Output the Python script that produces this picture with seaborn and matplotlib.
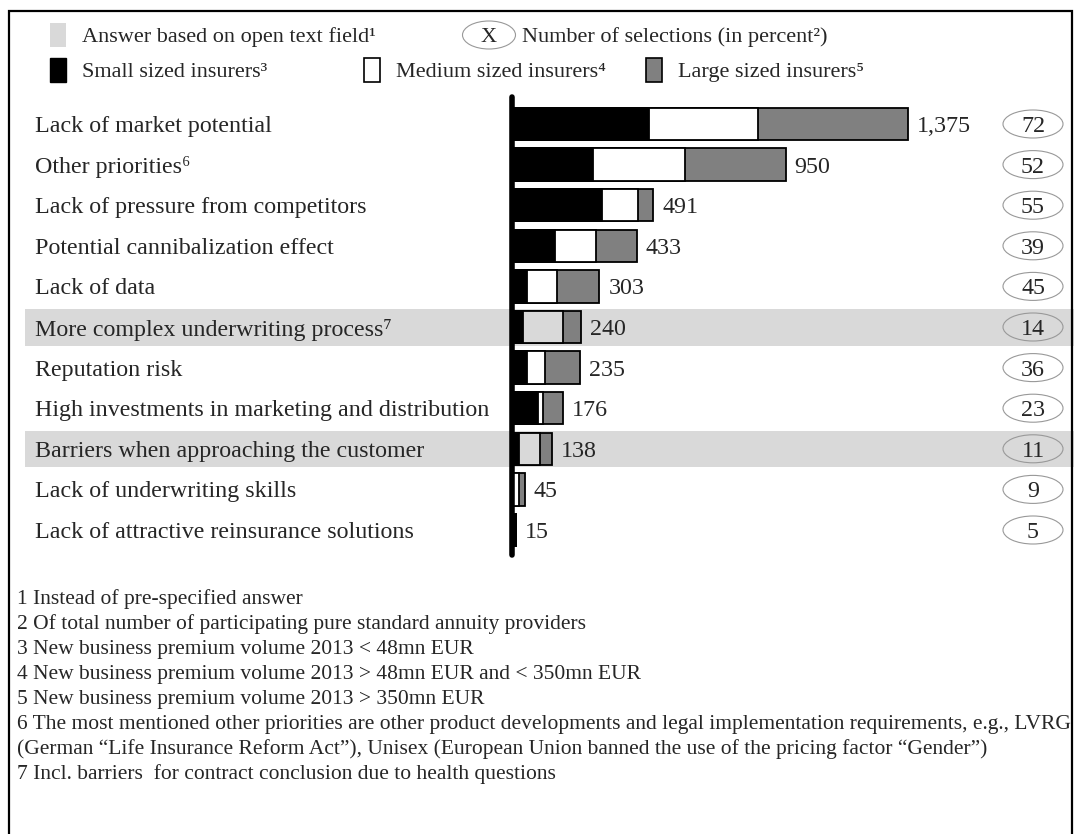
import numpy as np
import pandas as pd
import matplotlib
matplotlib.use('Agg')
import matplotlib.pyplot as plt
from matplotlib.patches import Rectangle, Ellipse
import seaborn as sns

categories = ['Lack of market potential', 'Other priorities\u2076', 'Lack of pressure from competitors',
              'Potential cannibalization effect', 'Lack of data', 'More complex underwriting process\u2077',
              'Reputation risk', 'High investments in marketing and distribution',
              'Barriers when approaching the customer', 'Lack of underwriting skills',
              'Lack of attractive reinsurance solutions']
small = [475, 282, 311, 150, 52, 38, 52, 91, 25, 5, 15]
medium = [378, 317, 128, 143, 105, 139, 61, 16, 71, 18, 0]
large = [522, 351, 52, 140, 146, 63, 122, 69, 42, 22, 0]
totals = [1375, 950, 491, 433, 303, 240, 235, 176, 138, 45, 15]
selections = [72, 52, 55, 39, 45, 14, 36, 23, 11, 9, 5]
open_text = [False, False, False, False, False, True, False, False, True, False, False]

footnotes = ['1 Instead of pre-specified answer',
             '2 Of total number of participating pure standard annuity providers',
             '3 New business premium volume 2013 < 48mn EUR',
             '4 New business premium volume 2013 > 48mn EUR and < 350mn EUR',
             '5 New business premium volume 2013 > 350mn EUR',
             '6 The most mentioned other priorities are other product developments and legal implementation requirements, e.g., LVRG',
             '(German \u201cLife Insurance Reform Act\u201d), Unisex (European Union banned the use of the pricing factor \u201cGender\u201d)',
             '7 Incl. barriers  for contract conclusion due to health questions']

LIGHT = '#d9d9d9'
GRAY = '#808080'

df = pd.DataFrame({'reason': categories, 'small': small,
                   'small_medium': np.array(small) + np.array(medium),
                   'total': np.array(small) + np.array(medium) + np.array(large)})

sns.set_theme(style='white')
plt.rcParams['font.family'] = ['Liberation Serif', 'DejaVu Serif']

W, H = 1074, 834
fig = plt.figure(figsize=(W / 100, H / 100), dpi=100)

def fx(x):
    return x / W

def fy(y):
    return 1 - y / H

# main axes spans the full width, bars start at x=512px, rows 40.6px apart
scale = 0.288
row0, step = 124, 40.6
top_px, bot_px = 97, 562
ax = fig.add_axes([0, fy(bot_px), 1, (bot_px - top_px) / H])

mid_colors = [LIGHT if o else 'white' for o in open_text]
bar_kw = dict(edgecolor='black', linewidth=1.3, width=0.8, saturation=1, ax=ax)
sns.barplot(data=df, x='total', y='reason', color=GRAY, zorder=2, **bar_kw)
sns.barplot(data=df, x='small_medium', y='reason', hue='reason', palette=mid_colors, legend=False,
            zorder=3, **bar_kw)
sns.barplot(data=df, x='small', y='reason', color='black', zorder=4, **bar_kw)

ax.set_xlim(-512 / scale, (W - 512) / scale)
ax.set_ylim((bot_px - row0) / step, -(row0 - top_px) / step)
ax.set_xticks([])
ax.set_yticks([])
ax.set_xlabel('')
ax.set_ylabel('')
for s in ax.spines.values():
    s.set_visible(False)
ax.patch.set_alpha(0)

ax.plot([0, 0], [-(row0 - top_px) / step, (555 - row0) / step], color='black', lw=4,
        solid_capstyle='round', clip_on=False, zorder=6)

ytr = ax.get_yaxis_transform()
for i, (lab, tot, sel, o) in enumerate(zip(categories, totals, selections, open_text)):
    if o:
        ax.axhspan(i - 0.44, i + 0.46, xmin=fx(25), xmax=1, color=LIGHT, zorder=0, lw=0)
    ax.text(fx(35), i, lab, transform=ytr, va='center_baseline', ha='left', fontsize=17.3)
    ax.text(tot + 9 / scale, i, f'{tot:,}', va='center_baseline', ha='left', fontsize=17.3)
    ax.add_patch(Ellipse((fx(1033), i), fx(60), 0.69, transform=ytr, fill=False,
                         edgecolor='#999999', lw=0.8, zorder=3))
    ax.text(fx(1033), i, str(sel), transform=ytr, va='center_baseline', ha='center', fontsize=17.3)

# legend
ftr = fig.transFigure
fs_leg = 16
fig.add_artist(Rectangle((fx(50), fy(47)), fx(16), 24 / H, transform=ftr, facecolor=LIGHT, edgecolor='none'))
fig.text(fx(82), fy(35), 'Answer based on open text field\u00b9', va='center_baseline', fontsize=fs_leg)
fig.add_artist(Ellipse((fx(489), fy(35)), fx(53), 28 / H, transform=ftr, fill=False, edgecolor='#999999', lw=0.8))
fig.text(fx(489), fy(35), 'X', va='center_baseline', ha='center', fontsize=fs_leg)
fig.text(fx(522), fy(35), 'Number of selections (in percent\u00b2)', va='center_baseline', fontsize=fs_leg)

fig.add_artist(Rectangle((fx(50), fy(82)), fx(16), 24 / H, transform=ftr, facecolor='black', edgecolor='black'))
fig.text(fx(82), fy(70), 'Small sized insurers\u00b3', va='center_baseline', fontsize=fs_leg)
fig.add_artist(Rectangle((fx(364), fy(82)), fx(16), 24 / H, transform=ftr, facecolor='white', edgecolor='black', lw=1.2))
fig.text(fx(396), fy(70), 'Medium sized insurers\u2074', va='center_baseline', fontsize=fs_leg)
fig.add_artist(Rectangle((fx(646), fy(82)), fx(16), 24 / H, transform=ftr, facecolor=GRAY, edgecolor='black', lw=1.2))
fig.text(fx(678), fy(70), 'Large sized insurers\u2075', va='center_baseline', fontsize=fs_leg)

# footnotes
for k, line in enumerate(footnotes):
    fig.text(fx(17), fy(597 + 25 * k), line, va='center_baseline', fontsize=15.5)

# frame
fig.add_artist(Rectangle((fx(9), -0.1), fx(1063), fy(11) + 0.1, transform=ftr, fill=False,
                         edgecolor='black', lw=1.6))

fig.savefig('out.png', dpi=100)
